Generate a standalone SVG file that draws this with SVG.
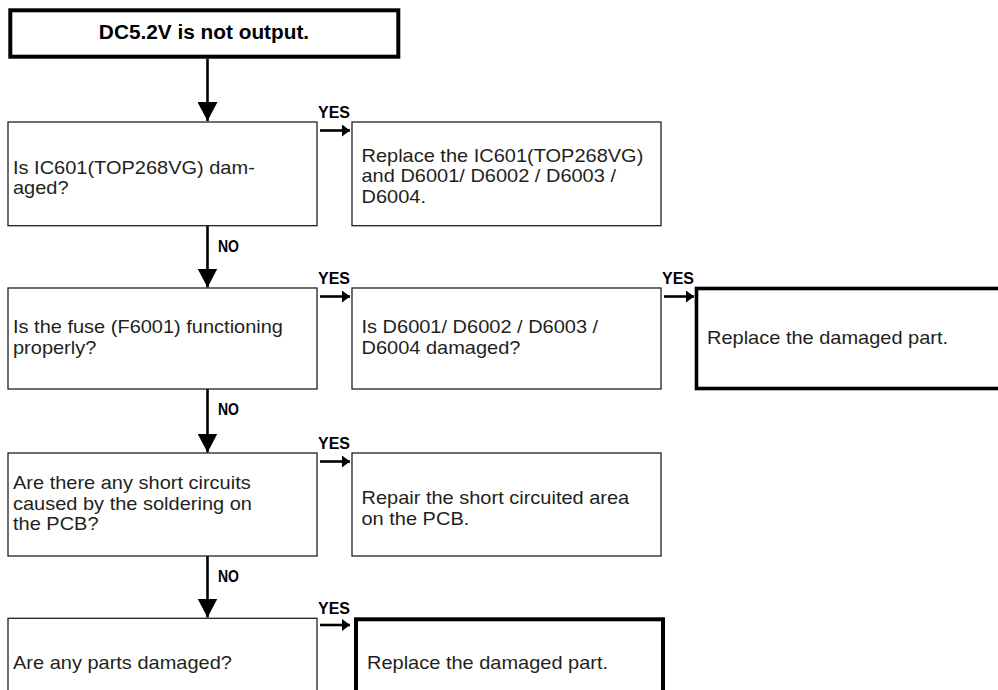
<svg xmlns="http://www.w3.org/2000/svg" width="998" height="690" viewBox="0 0 998 690">
<defs>
<style>
.box{fill:#fff;stroke:#231f20;stroke-width:1.3}
.thick{fill:#fff;stroke:#000;stroke-width:4}
.t{font-family:"Liberation Sans",Arial,sans-serif;font-size:18.3px;fill:#231f20}
.title{font-family:"Liberation Sans",Arial,sans-serif;font-size:20.8px;font-weight:bold;fill:#000}
.lbl{font-family:"Liberation Sans",Arial,sans-serif;font-size:17px;font-weight:bold;fill:#000}
.conn{stroke:#000;stroke-width:2.6;fill:none}
</style>
<marker id="big" markerUnits="userSpaceOnUse" markerWidth="20" markerHeight="20" refX="19" refY="10" orient="auto">
<path d="M0,0 L19,10 L0,20 Z" fill="#000"/>
</marker>
<marker id="small" markerUnits="userSpaceOnUse" markerWidth="9" markerHeight="12" refX="8" refY="6" orient="auto">
<path d="M0,0 L8,6 L0,12 Z" fill="#000"/>
</marker>
</defs>

<g id="connectors">
<line class="conn" x1="207.5" y1="58.7" x2="207.5" y2="121" marker-end="url(#big)"/>
<line class="conn" x1="207.5" y1="226" x2="207.5" y2="287.5" marker-end="url(#big)"/>
<line class="conn" x1="207.5" y1="389" x2="207.5" y2="452.5" marker-end="url(#big)"/>
<line class="conn" x1="207.5" y1="556" x2="207.5" y2="617.5" marker-end="url(#big)"/>
<line class="conn" x1="320" y1="130.5" x2="350" y2="130.5" marker-end="url(#small)"/>
<line class="conn" x1="320" y1="296.5" x2="350" y2="296.5" marker-end="url(#small)"/>
<line class="conn" x1="664" y1="296.5" x2="694" y2="296.5" marker-end="url(#small)"/>
<line class="conn" x1="320" y1="461.5" x2="350" y2="461.5" marker-end="url(#small)"/>
<line class="conn" x1="320" y1="625" x2="350" y2="625" marker-end="url(#small)"/>
<text class="lbl" x="318" y="118" textLength="32" lengthAdjust="spacingAndGlyphs">YES</text>
<text class="lbl" x="318" y="284.3" textLength="32" lengthAdjust="spacingAndGlyphs">YES</text>
<text class="lbl" x="662" y="284.3" textLength="32" lengthAdjust="spacingAndGlyphs">YES</text>
<text class="lbl" x="318" y="449" textLength="32" lengthAdjust="spacingAndGlyphs">YES</text>
<text class="lbl" x="318" y="614" textLength="32" lengthAdjust="spacingAndGlyphs">YES</text>
<text class="lbl" x="218" y="252" textLength="21" lengthAdjust="spacingAndGlyphs">NO</text>
<text class="lbl" x="218" y="415" textLength="21" lengthAdjust="spacingAndGlyphs">NO</text>
<text class="lbl" x="218" y="582" textLength="21" lengthAdjust="spacingAndGlyphs">NO</text>
</g>

<g id="start">
<rect class="thick" x="10.3" y="10.3" width="388" height="46.4"/>
<text class="title" x="204" y="39.3" text-anchor="middle">DC5.2V is not output.</text>
</g>

<g id="q1">
<rect class="box" x="8" y="122" width="309" height="103.7"/>
<text class="t" transform="matrix(1.093 0 0 1 -1.21 0)"><tspan x="13" y="173.7">Is IC601(TOP268VG) dam-</tspan><tspan x="13" y="194.2">aged?</tspan></text>
</g>

<g id="a1">
<rect class="box" x="352" y="122" width="309" height="103.7"/>
<text class="t" transform="matrix(1.093 0 0 1 -33.62 0)"><tspan x="361.5" y="162">Replace the IC601(TOP268VG)</tspan><tspan x="361.5" y="182.5">and D6001/ D6002 / D6003 /</tspan><tspan x="361.5" y="203">D6004.</tspan></text>
</g>

<g id="q2">
<rect class="box" x="8" y="288" width="309" height="101"/>
<text class="t" transform="matrix(1.093 0 0 1 -1.21 0)"><tspan x="13" y="333.5">Is the fuse (F6001) functioning</tspan><tspan x="13" y="354">properly?</tspan></text>
</g>

<g id="q2b">
<rect class="box" x="352" y="288" width="309" height="101"/>
<text class="t" transform="matrix(1.093 0 0 1 -33.62 0)"><tspan x="361.5" y="333.5">Is D6001/ D6002 / D6003 /</tspan><tspan x="361.5" y="354">D6004 damaged?</tspan></text>
</g>

<g id="a2">
<rect class="thick" x="696.5" y="288.5" width="320" height="100" style="stroke-width:3.6"/>
<text class="t" transform="matrix(1.093 0 0 1 -65.75 0)" x="707" y="344">Replace the damaged part.</text>
</g>

<g id="q3">
<rect class="box" x="8" y="453" width="309" height="103"/>
<text class="t" transform="matrix(1.093 0 0 1 -1.21 0)"><tspan x="13" y="489.5">Are there any short circuits</tspan><tspan x="13" y="510">caused by the soldering on</tspan><tspan x="13" y="530.5">the PCB?</tspan></text>
</g>

<g id="a3">
<rect class="box" x="352" y="453" width="309" height="103"/>
<text class="t" transform="matrix(1.093 0 0 1 -33.62 0)"><tspan x="361.5" y="504.5">Repair the short circuited area</tspan><tspan x="361.5" y="525">on the PCB.</tspan></text>
</g>

<g id="q4">
<rect class="box" x="8" y="618.3" width="309" height="100"/>
<text class="t" transform="matrix(1.093 0 0 1 -1.21 0)" x="13" y="669">Are any parts damaged?</text>
</g>

<g id="a4">
<rect class="thick" x="356" y="619.3" width="307" height="100"/>
<text class="t" transform="matrix(1.093 0 0 1 -34.13 0)" x="367" y="669">Replace the damaged part.</text>
</g>
</svg>
